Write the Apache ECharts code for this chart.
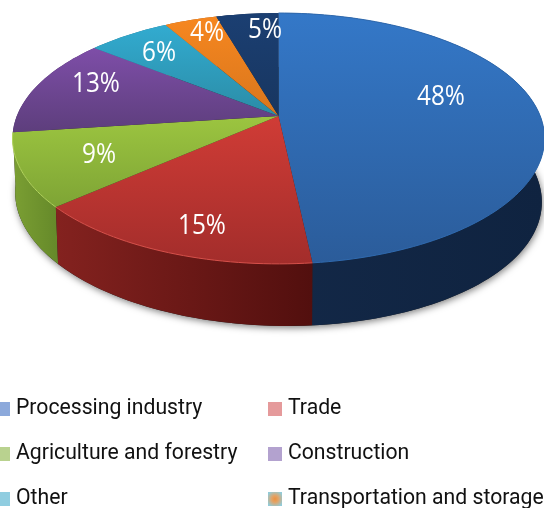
<!DOCTYPE html>
<html>
<head>
<meta charset="utf-8">
<style>html,body{margin:0;padding:0;background:#fff}#c{width:544px;height:508px}</style>
<script src="https://cdn.jsdelivr.net/npm/echarts@6/dist/echarts.min.js"></script>
</head>
<body>
<div id="c"></div>
<script>
// Data, clockwise from 12 o'clock
const categories = ['Processing industry', 'Trade', 'Agriculture and forestry', 'Construction', 'Other', 'Transportation and storage', 'Unspecified'];
const shares = [48.3, 15.2, 9.4, 12.8, 6.0, 3.8, 4.5];

// Styles (separate from the data)
const topColors = [['#3478c8', '#2b5c9a'], ['#d03c36', '#a32d2b'], ['#9cc540', '#7ea435'], ['#7e4ea8', '#5d3e7c'], ['#32abd0', '#2b8ca6'], ['#f68720', '#d9761c'], ['#1b3f72', '#183660']];
const wallColors = [['#132847', '#0f2340'], ['#84221f', '#520f0e'], ['#7b9f33', '#668a2a'], ['#4a3066', '#4a3066'], ['#20708a', '#20708a'], ['#a85a14', '#a85a14'], ['#122a50', '#122a50']];
const rimColors = ['#2f6ab0', '#d8504a', '#b2d45c', null, null, null, null];
const wallOrder = [6, 7, 5, 4, 3, 2, 1];
const labelAnchors = [[441, 97], [202, 226], [99, 155], [96, 84], [159, 53], [207, 33], [265, 30]];
const legendSwatches = ['#8ca9db', '#e59a9b', '#b9d28f', '#b3a2cf', '#90cde0', null];

// Tilted-disc projection of the pie
const cx = 278.5, cy = 116, k = 0.179, a = 121.4, b = 261.7;
const total = shares.reduce((s, v) => s + v, 0);
function rim(t) {
  const th = 2 * Math.PI * t, x = Math.sin(th), y = -Math.cos(th), w = 1 - k * y;
  return { X: cx + b * x / w, Y: cy + a * y / w, x, y };
}
function low(p) { return [cx + (p.X - cx) * 0.99, p.Y + 58 + 4 * p.y + 5 * p.x]; }
function arc(t0, t1) {
  const n = Math.max(8, Math.ceil((t1 - t0) * 240)), out = [];
  for (let i = 0; i <= n; i++) out.push(rim(t0 + (t1 - t0) * i / n));
  return out;
}
function vgrad(c, y0, y1) { return new echarts.graphic.LinearGradient(0, y0, 0, y1, [{ offset: 0, color: c[0] }, { offset: 1, color: c[1] }], true); }
function hgrad(c, x0, x1) { return new echarts.graphic.LinearGradient(x0, 0, x1, 0, [{ offset: 0, color: c[0] }, { offset: 1, color: c[1] }], true); }

function makeRender(i) {
  const before = shares.slice(0, i).reduce((s, v) => s + v, 0);
  return function (params, api) {
    const t0 = before / total, t1 = (before + api.value(0)) / total;
    const pts = arc(t0, t1);
    const xy = pts.map(p => [p.X, p.Y]);
    const ys = xy.map(p => p[1]).concat([cy]), xs = xy.map(p => p[0]);
    const children = [];
    if (i === 0) {
      const all = arc(0, 1).map(low);
      children.push({ type: 'polygon', shape: { points: all }, z2: 0, style: { fill: '#222', shadowBlur: 7, shadowColor: 'rgba(0,0,0,0.5)', shadowOffsetX: 1, shadowOffsetY: 2 } });
    }
    children.push({
      type: 'polygon', z2: wallOrder[i],
      shape: { points: xy.concat(pts.map(low).reverse()) },
      style: { fill: hgrad(wallColors[i], Math.min.apply(null, xs), Math.max.apply(null, xs)) }
    });
    children.push({
      type: 'polygon', z2: 100,
      shape: { points: [[cx, cy]].concat(xy) },
      style: { fill: vgrad(topColors[i], Math.min.apply(null, ys), Math.max.apply(null, ys)) }
    });
    if (rimColors[i]) {
      children.push({ type: 'polyline', z2: 101, shape: { points: xy }, style: { fill: null, stroke: rimColors[i], lineWidth: 1 } });
    }
    children.push({
      type: 'text', z2: 200, x: labelAnchors[i][0], y: labelAnchors[i][1], scaleX: 0.9,
      style: { text: Math.round(api.value(0)) + '%', fill: '#fff', font: '27px "Open Sans"', align: 'center', verticalAlign: 'middle' }
    });
    return { type: 'group', children };
  };
}

const series = categories.map((name, i) => ({
  type: 'custom', name, coordinateSystem: 'none', silent: true, animation: false,
  data: [[shares[i]]], renderItem: makeRender(i)
}));

function legendItem(i, extra) {
  const color = legendSwatches[i] || new echarts.graphic.RadialGradient(0.5, 0.5, 0.6, [
    { offset: 0, color: '#ec9240' }, { offset: 0.4, color: '#e2a468' }, { offset: 1, color: '#92cbd8' }]);
  return Object.assign({ name: categories[i], icon: 'rect', itemStyle: { color, borderWidth: 0 } }, extra || {});
}
const legendBase = {
  orient: 'vertical', top: 398, height: 120, itemWidth: 14, itemHeight: 14, itemGap: 23, selectedMode: false, padding: 0,
  textStyle: { fontFamily: 'Roboto', fontSize: 21.2, color: '#111', padding: [0, 0, 0, 1], lineHeight: 22 }
};
const chart = echarts.init(document.getElementById('c'), null, { renderer: 'canvas' });
chart.setOption({
  backgroundColor: '#fff',
  animation: false,
  tooltip: { show: false },
  legend: [
    Object.assign({}, legendBase, { left: -4, data: [legendItem(0), legendItem(2), legendItem(4)] }),
    Object.assign({}, legendBase, { left: 268, data: [legendItem(1), legendItem(3), legendItem(5)] })
  ],
  series
});
</script>
</body>
</html>
